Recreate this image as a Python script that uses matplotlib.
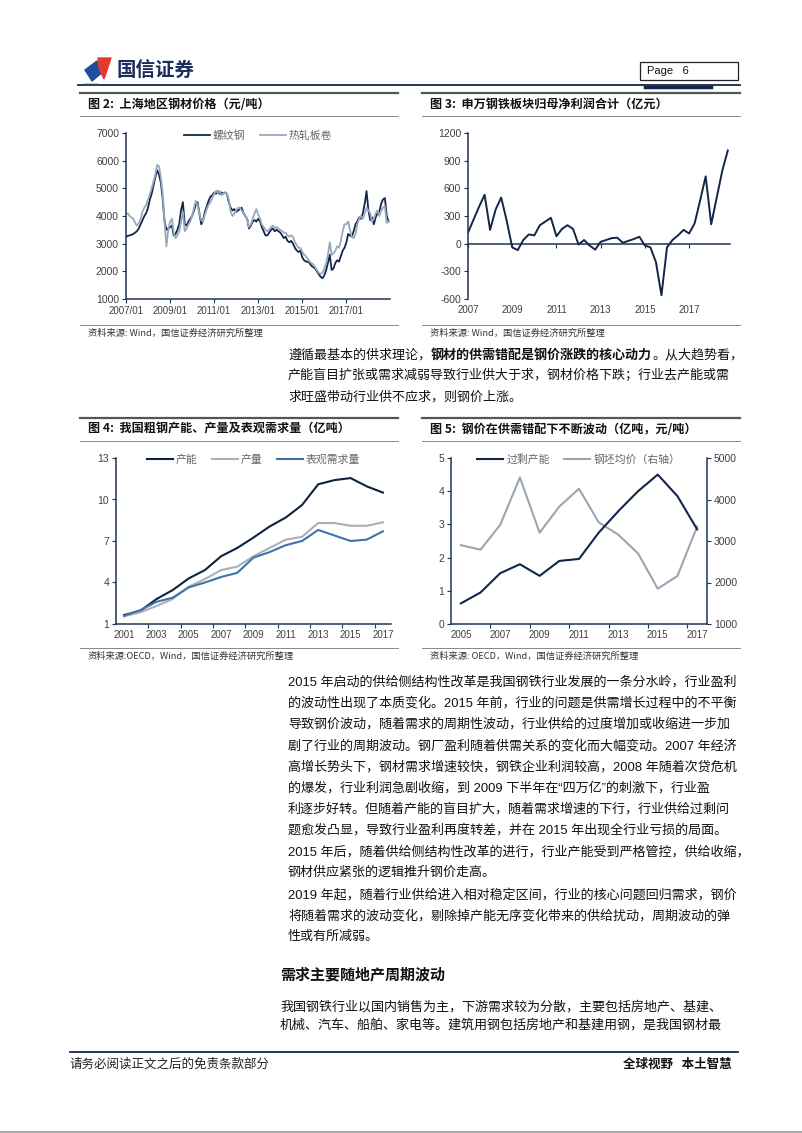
import matplotlib
matplotlib.use('Agg')
import matplotlib.pyplot as plt
import pandas as pd
from matplotlib.lines import Line2D
from matplotlib.patches import Rectangle, Polygon
from matplotlib.text import Annotation

plt.rcParams['font.family'] = ['Liberation Sans', 'Noto Sans CJK SC']
plt.rcParams['axes.unicode_minus'] = False
CJK = ['Noto Sans CJK SC', 'DejaVu Sans']
W, H = 802, 1133

NAVY = '#13264a'
AXC = '#1f3455'
TICKC = '#404040'

# ---------------- data ----------------
# fig 2: Shanghai steel prices (yuan/ton), monthly 2007/01 - 2018/12
price_months = pd.date_range('2007-01-01', periods=144, freq='MS')
rebar = [3250, 3280, 3300, 3320, 3350, 3400, 3450, 3550, 3700, 3850, 4000, 4100,
         4300, 4600, 4800, 5100, 5400, 5650, 5500, 5200, 4600, 3800, 3500, 3550,
         3600, 3650, 3300, 3350, 3500, 3700, 4200, 4500, 3700, 3650, 3800, 3900,
         4000, 4200, 4400, 4500, 4100, 3700, 3850, 4150, 4350, 4550, 4700, 4750,
         4850, 4800, 4900, 4800, 4850, 4800, 4850, 4800, 4500, 4300, 4200, 4250,
         4150, 4200, 4250, 4300, 4100, 4000, 3900, 3550, 3650, 3800, 3850, 3800,
         3900, 3800, 3600, 3450, 3300, 3300, 3400, 3500, 3550, 3450, 3500, 3450,
         3400, 3300, 3200, 3250, 3100, 3050, 3100, 3000, 2850, 2750, 2700, 2750,
         2500, 2400, 2350, 2350, 2300, 2200, 2150, 2100, 2000, 1900, 1800, 1750,
         1850, 2050, 2300, 2600, 2050, 2100, 2300, 2400, 2350, 2550, 2750, 2850,
         3050, 3350, 3300, 3250, 3450, 3700, 3800, 3950, 3900, 4100, 4450, 4900,
         4200, 3850, 3950, 3700, 3950, 4100, 4150, 4450, 4600, 4650, 4000, 3800]
hrc = [4050, 4100, 4000, 3950, 3900, 3750, 3650, 3750, 3900, 4150, 4300, 4400,
       4600, 4800, 5000, 5250, 5500, 5850, 5800, 5400, 4800, 3800, 2900, 3500,
       3800, 3900, 3400, 3200, 3300, 3450, 3800, 4150, 3450, 3550, 3700, 3800,
       4000, 4300, 4550, 4400, 4100, 3850, 3800, 4050, 4250, 4400, 4500, 4650,
       4800, 4900, 4850, 4900, 4750, 4800, 4850, 4800, 4600, 4150, 4000, 4100,
       4200, 4300, 4300, 4200, 4100, 4000, 3900, 3600, 3700, 3900, 4100, 4250,
       4050, 3900, 3700, 3600, 3500, 3450, 3500, 3600, 3650, 3550, 3600, 3550,
       3500, 3450, 3400, 3400, 3300, 3250, 3300, 3250, 3050, 2950, 2850, 2850,
       2700, 2600, 2550, 2450, 2350, 2300, 2250, 2150, 2050, 1950, 1900, 1950,
       2100, 2300, 2600, 3050, 2600, 2650, 2750, 2900, 2850, 3100, 3450, 3700,
       3700, 3800, 3500, 3250, 3200, 3350, 3700, 3900, 4000, 3900, 4100, 4300,
       4200, 4100, 3800, 3900, 4100, 4200, 4000, 4200, 4300, 4350, 3750, 3800]
price_ticks = ['2007/01', '2009/01', '2011/01', '2013/01', '2015/01', '2017/01']

# fig 3: net profit of SW steel sector (100m yuan), quarterly 2007Q1 - 2018Q4
profit_q = pd.period_range('2007Q1', periods=48, freq='Q')
profit = [120, 260, 400, 530, 150, 370, 500, 250, -40, -70, 40, 100,
          90, 200, 240, 280, 80, 160, 200, 160, -10, 40, -20, -65,
          20, 40, 60, 65, 10, 30, 50, 75, -20, -40, -200, -560,
          -40, 40, 90, 150, 110, 220, 470, 730, 210, 500, 790, 1010]

# fig 4: capacity / output / apparent demand (100m ton)
cap_years = list(range(2001, 2018))
capacity = [1.65, 1.95, 2.8, 3.45, 4.3, 4.9, 5.9, 6.5, 7.25, 8.05, 8.7, 9.6, 11.1, 11.4, 11.55, 10.95, 10.5]
output = [1.55, 1.85, 2.3, 2.8, 3.7, 4.25, 4.9, 5.15, 5.9, 6.5, 7.1, 7.3, 8.3, 8.3, 8.1, 8.1, 8.35]
demand = [1.6, 2.0, 2.6, 2.9, 3.65, 4.0, 4.4, 4.7, 5.8, 6.2, 6.7, 7.0, 7.8, 7.4, 7.0, 7.1, 7.7]

# fig 5: excess capacity vs billet price
ex_years = list(range(2005, 2018))
excess = [0.62, 0.95, 1.53, 1.8, 1.45, 1.9, 1.96, 2.75, 3.4, 4.0, 4.5, 3.85, 2.85]
billet = [2900, 2790, 3390, 4530, 3200, 3830, 4260, 3450, 3150, 2700, 1850, 2160, 3350]

para1 = ['遵循最基本的供求理论，', '钢材的供需错配是钢价涨跌的核心动力', '。从大趋势看，']
para1_rest = ['产能盲目扩张或需求减弱导致行业供大于求，钢材价格下跌；行业去产能或需',
              '求旺盛带动行业供不应求，则钢价上涨。']
para2 = ['2015 年启动的供给侧结构性改革是我国钢铁行业发展的一条分水岭，行业盈利',
         '的波动性出现了本质变化。2015 年前，行业的问题是供需增长过程中的不平衡',
         '导致钢价波动，随着需求的周期性波动，行业供给的过度增加或收缩进一步加',
         '剧了行业的周期波动。钢厂盈利随着供需关系的变化而大幅变动。2007 年经济',
         '高增长势头下，钢材需求增速较快，钢铁企业利润较高，2008 年随着次贷危机',
         '的爆发，行业利润急剧收缩，到 2009 下半年在“四万亿”的刺激下，行业盈',
         '利逐步好转。但随着产能的盲目扩大，随着需求增速的下行，行业供给过剩问',
         '题愈发凸显，导致行业盈利再度转差，并在 2015 年出现全行业亏损的局面。']
para3 = ['2015 年后，随着供给侧结构性改革的进行，行业产能受到严格管控，供给收缩，',
         '钢材供应紧张的逻辑推升钢价走高。']
para4 = ['2019 年起，随着行业供给进入相对稳定区间，行业的核心问题回归需求，钢价',
         '将随着需求的波动变化，剔除掉产能无序变化带来的供给扰动，周期波动的弹',
         '性或有所减弱。']
para5 = ['我国钢铁行业以国内销售为主，下游需求较为分散，主要包括房地产、基建、',
         '机械、汽车、船舶、家电等。建筑用钢包括房地产和基建用钢，是我国钢材最']

# ---------------- page ----------------
fig = plt.figure(figsize=(8.02, 11.33), dpi=100)


def hline(x0, x1, y, lw=0.8, color='#808080'):
    fig.add_artist(Line2D([x0 / W, x1 / W], [1 - y / H, 1 - y / H],
                          transform=fig.transFigure, lw=lw, color=color))


def ftext(x, y, s, **kw):
    return fig.text(x / W, 1 - y / H, s, **kw)


def add_ax(l, t, r, b):
    return fig.add_axes([l / W, 1 - b / H, (r - l) / W, (b - t) / H])


def style_ax(ax):
    for s in ['top', 'right']:
        ax.spines[s].set_visible(False)
    for s in ['left', 'bottom']:
        ax.spines[s].set_color(AXC)
        ax.spines[s].set_linewidth(1.1)
    ax.tick_params(colors=AXC, labelcolor=TICKC, length=3, width=0.8, pad=2)
    ax.tick_params(axis='y', labelsize=7.5)
    ax.tick_params(axis='x', labelsize=7)


def panel(x0, x1, ytop, ysrc, title, source):
    hline(x0, x1, ytop, lw=1.6, color='#555555')
    ftext(x0 + 8, ytop + 11, title, family=CJK, fontsize=8.7, fontweight='bold', va='center', color='#111111')
    hline(x0, x1, ytop + 23, lw=0.7, color='#888888')
    hline(x0, x1, ysrc, lw=0.7, color='#888888')
    ftext(x0 + 8, ysrc + 8, source, family=CJK, fontsize=6.7, va='center', color='#333333')


def legend(ax, y=0.985, **kw):
    lg = ax.legend(loc='center', bbox_to_anchor=(0.5, y), ncol=3, frameon=False,
                   handlelength=2.4, columnspacing=1.3, handletextpad=0.3,
                   prop={'family': CJK, 'size': 7.8}, **kw)
    for t in lg.get_texts():
        t.set_color('#666666')


# header
fig.add_artist(Polygon([(85 / W, 1 - 70 / H), (97 / W, 1 - 61 / H), (104 / W, 1 - 71 / H), (92 / W, 1 - 81 / H)],
                       closed=True, transform=fig.transFigure, color='#1f4e9c'))
fig.add_artist(Polygon([(98 / W, 1 - 58 / H), (111 / W, 1 - 58 / H), (104 / W, 1 - 79 / H), (99 / W, 1 - 68 / H)],
                       closed=True, transform=fig.transFigure, color='#e23a2e'))
ftext(116, 71, '国信证券', family=CJK, fontsize=14, fontweight='bold', va='center', color='#1b2d5c')
ftext(84, 84.5, 'GUOSEN', fontsize=2.5, va='center', color='#555555')
fig.add_artist(Rectangle((640 / W, 1 - 80 / H), 98 / W, 18 / H, transform=fig.transFigure,
                         fill=False, lw=0.9, ec='#222222'))
ftext(647, 71, 'Page   6', fontsize=8, va='center', color='#111111')
hline(78, 740, 84.5, lw=1.3, color=NAVY)
hline(645, 711, 86.5, lw=2.5, color=NAVY)

# ---------------- fig 2 ----------------
panel(80, 398, 93, 325, '图 2:  上海地区钢材价格（元/吨）', '资料来源: Wind，国信证券经济研究所整理')
ax2 = add_ax(126, 133, 390, 299)
style_ax(ax2)
ax2.plot(price_months, rebar, color=NAVY, lw=1.3, label='螺纹钢')
ax2.plot(price_months, hrc, color='#97a9bd', lw=1.3, label='热轧板卷')
ax2.set_ylim(1000, 7000)
ax2.set_yticks(range(1000, 7001, 1000))
ax2.set_xlim(pd.Timestamp('2007-01-01'), pd.Timestamp('2018-12-25'))
ax2.set_xticks(pd.to_datetime([t.replace('/', '-') + '-01' for t in price_ticks]))
ax2.set_xticklabels(price_ticks)
legend(ax2, y=0.985)

# ---------------- fig 3 ----------------
panel(422, 740, 93, 325, '图 3:  申万钢铁板块归母净利润合计（亿元）', '资料来源: Wind，国信证券经济研究所整理')
ax3 = add_ax(468, 133, 730, 299)
style_ax(ax3)
qx = profit_q.year + (profit_q.quarter - 1) / 4
ax3.plot(qx, profit, color=NAVY, lw=1.4)
ax3.set_ylim(-600, 1200)
ax3.set_yticks(range(-600, 1201, 300))
ax3.set_xlim(2007, 2018.85)
ax3.set_xticks(range(2007, 2018, 2))
ax3.spines['bottom'].set_visible(False)
ax3.tick_params(axis='x', length=0, pad=4)
zero = ax3.secondary_xaxis(600 / 1800)
zero.set_xticks(range(2007, 2018, 2))
zero.tick_params(length=3, colors=AXC, labelbottom=False, width=0.8)
zero.spines['bottom'].set_color(AXC)
zero.spines['bottom'].set_linewidth(1.1)

# ---------------- fig 4 ----------------
panel(80, 398, 418, 648, '图 4:  我国粗钢产能、产量及表观需求量（亿吨）', '资料来源:OECD，Wind，国信证券经济研究所整理')
ax4 = add_ax(116, 458, 391, 624)
style_ax(ax4)
ax4.plot(cap_years, capacity, color='#0d2240', lw=1.5, label='产能')
ax4.plot(cap_years, output, color='#a9b0b9', lw=1.5, label='产量')
ax4.plot(cap_years, demand, color='#3f73aa', lw=1.5, label='表观需求量')
ax4.set_ylim(1, 13)
ax4.set_yticks([1, 4, 7, 10, 13])
ax4.set_xlim(cap_years[0] - 0.5, cap_years[-1] + 0.5)
ax4.set_xticks(cap_years[::2])
ax4.tick_params(axis='x', length=0, pad=4)
ax4.set_xticks([y + 0.5 for y in cap_years[1::2]], minor=True)
ax4.tick_params(axis='x', which='minor', length=3, color=AXC, width=0.8)
legend(ax4, y=0.99)

# ---------------- fig 5 ----------------
panel(422, 740, 418, 648, '图 5:  钢价在供需错配下不断波动（亿吨，元/吨）', '资料来源: OECD，Wind，国信证券经济研究所整理')
ax5 = add_ax(451, 458, 707, 624)
style_ax(ax5)
l1, = ax5.plot(ex_years, excess, color=NAVY, lw=1.5, label='过剩产能')
ax5.set_ylim(0, 5)
ax5.set_yticks(range(0, 6))
ax5.set_xlim(ex_years[0] - 0.5, ex_years[-1] + 0.5)
ax5.set_xticks(ex_years[::2])
ax5.tick_params(axis='x', length=0, pad=4)
ax5.set_xticks([y + 0.5 for y in ex_years[1::2]], minor=True)
ax5.tick_params(axis='x', which='minor', length=3, color=AXC, width=0.8)
ax5r = ax5.twinx()
ax5r.spines['top'].set_visible(False)
ax5r.spines['left'].set_visible(False)
ax5r.spines['bottom'].set_visible(False)
ax5r.spines['right'].set_color(AXC)
ax5r.spines['right'].set_linewidth(1.1)
ax5r.tick_params(colors=AXC, labelcolor=TICKC, labelsize=7.5, length=3, width=0.8, pad=2)
l2, = ax5r.plot(ex_years, billet, color='#9ba6b2', lw=1.5, label='钢坯均价（右轴）')
ax5r.set_ylim(1000, 5000)
ax5r.set_yticks(range(1000, 5001, 1000))
ax5.set_zorder(ax5r.get_zorder() + 1)
ax5.patch.set_visible(False)
legend(ax5, y=0.99, handles=[l1, l2])

# ---------------- body text ----------------
BODY = dict(family=['Liberation Sans', 'Noto Sans CJK SC'], fontsize=9.4, color='#111111')
a = ftext(288, 355, para1[0], va='center', **BODY)
b = fig.add_artist(Annotation(para1[1], xy=(1, 0.5), xycoords=a, va='center', ha='left',
                              family=CJK, fontsize=9.4, fontweight='bold', color='#111111'))
fig.add_artist(Annotation(para1[2], xy=(1, 0.5), xycoords=b, va='center', ha='left', **BODY))
for i, s in enumerate(para1_rest):
    ftext(288, 376 + 21 * i, s, va='center', **BODY)

for i, s in enumerate(para2):
    ftext(288, 682 + 21.2 * i, s, va='center', **BODY)
for i, s in enumerate(para3):
    ftext(288, 852 + 21 * i, s, va='center', **BODY)
for i, s in enumerate(para4):
    ftext(288, 895 + 21 * i, s, va='center', **BODY)

ftext(280, 974, '需求主要随地产周期波动', family=CJK, fontsize=10.8, fontweight='bold', va='center', color='#111111')
for i, s in enumerate(para5):
    ftext(280, 1007 + 18.5 * i, s, va='center', **BODY)

# footer
hline(70, 738, 1052, lw=1.3, color=NAVY)
ftext(70, 1064, '请务必阅读正文之后的免责条款部分', family=CJK, fontsize=9, va='center', color='#222222')
ftext(732, 1064, '全球视野   本土智慧', family=CJK, fontsize=9, fontweight='bold', style='italic',
      va='center', ha='right', color='#111111')
hline(0, 802, 1132, lw=1.2, color='#999999')

fig.savefig('out.png', dpi=100)
